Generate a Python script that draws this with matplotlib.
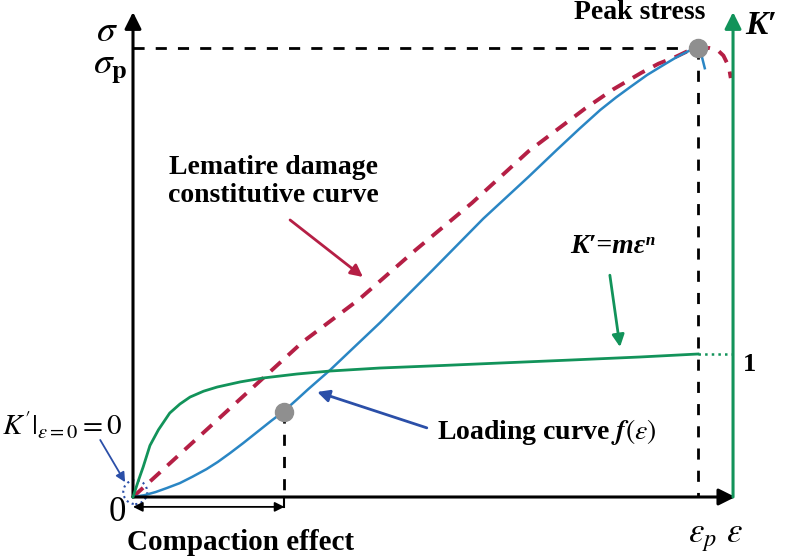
import numpy as np
import matplotlib.pyplot as plt
from matplotlib.patches import Ellipse

plt.rcParams['mathtext.fontset'] = 'stix'
plt.rcParams['font.family'] = ['Liberation Serif', 'DejaVu Serif']

# strain normalised by peak strain, stress by peak stress
eps_load = [0, 0.02, 0.04, 0.06, 0.083, 0.105, 0.13, 0.15, 0.172, 0.195, 0.22, 0.245,
            0.265, 0.29, 0.31, 0.33, 0.349, 0.39, 0.437, 0.53, 0.62, 0.70, 0.75, 0.79,
            0.827, 0.855, 0.88, 0.91, 0.94, 0.96, 0.975, 0.988, 0.998, 1.006, 1.012]
sig_load = [0, 0.004, 0.011, 0.02, 0.031, 0.045, 0.062, 0.078, 0.098, 0.12, 0.145, 0.17,
            0.189, 0.217, 0.24, 0.262, 0.283, 0.332, 0.388, 0.505, 0.62, 0.713, 0.773, 0.82,
            0.862, 0.89, 0.913, 0.94, 0.963, 0.978, 0.988, 0.996, 1.0, 0.985, 0.955]

eps_lem = [0, 0.1, 0.2, 0.3, 0.4, 0.5, 0.6, 0.7, 0.8, 0.85, 0.9, 0.93, 0.96, 0.98, 1.0,
           1.02, 1.035, 1.045, 1.052, 1.056, 1.058]
sig_lem = [0, 0.115, 0.23, 0.345, 0.44, 0.55, 0.655, 0.77, 0.865, 0.908, 0.945, 0.965,
           0.98, 0.992, 0.998, 1.0, 0.995, 0.983, 0.965, 0.948, 0.933]

# K' = m eps^n (right axis)
eps_k = [0, 0.005, 0.01, 0.018, 0.03, 0.045, 0.065, 0.083, 0.101, 0.125, 0.149, 0.19,
         0.23, 0.29, 0.349, 0.437, 0.55, 0.65, 0.77, 0.897, 1.0]
k_val = [0, 0.06, 0.12, 0.21, 0.36, 0.47, 0.587, 0.65, 0.699, 0.74, 0.769, 0.805,
         0.832, 0.86, 0.881, 0.902, 0.92, 0.937, 0.957, 0.979, 1.0]

eps_comp, sig_comp = 0.268, 0.19
eps_peak, sig_peak = 1.0, 1.0
eps_end, sig_top = 1.062, 1.08

blue = '#2a86c4'
red = '#b51f45'
green = '#12935a'

fig = plt.figure(figsize=(7.86, 5.59), dpi=100)
ax = fig.add_axes([0, 0, 1, 1])
ax.set_xlim(-133 / 565, 653 / 565)
ax.set_ylim(-62 / 449, 497 / 449)
ax.axis('off')
ax2 = ax.twinx()
ax2.set_ylim(-62 / 143, 497 / 143)
ax2.axis('off')

# guide lines
ax.plot([0, eps_peak], [sig_peak, sig_peak], color='k', lw=2, dashes=(4, 4))
ax.plot([eps_peak, eps_peak], [sig_peak, 0], color='k', lw=2, dashes=(4, 4))
ax.plot([eps_comp, eps_comp], [sig_comp, 0], color='k', lw=2, dashes=(4, 4))
ax.plot([eps_comp, eps_comp], [0, -0.022], color='k', lw=1.5)
ax.annotate('', xy=(eps_comp, -0.022), xytext=(0, -0.022),
            arrowprops=dict(arrowstyle='<|-|>', lw=1.3, color='k', mutation_scale=14,
                            shrinkA=0, shrinkB=0))

# curves
ax.plot(eps_lem, sig_lem, color=red, lw=2.8, dashes=(3.5, 2.5))
ax.plot(eps_load, sig_load, color=blue, lw=1.8)
ax2.plot(eps_k, k_val, color=green, lw=2)
ax2.plot([1.0, eps_end], [1, 1], color=green, lw=1.8, ls=':')

ax.plot([eps_comp, eps_peak], [sig_comp, sig_peak], 'o', ms=13, color='#8f8f8f', zorder=5)

# axes
ax.annotate('', xy=(0, sig_top), xytext=(0, 0),
            arrowprops=dict(arrowstyle='-|>', lw=2.2, color='k', mutation_scale=25,
                            shrinkA=0, shrinkB=0))
ax.annotate('', xy=(eps_end + 0.004, 0), xytext=(0, 0),
            arrowprops=dict(arrowstyle='-|>', lw=2.2, color='k', mutation_scale=25,
                            shrinkA=0, shrinkB=0))
ax.annotate('', xy=(eps_end, sig_top), xytext=(eps_end, 0),
            arrowprops=dict(arrowstyle='-|>', lw=2.2, color=green, mutation_scale=25,
                            shrinkA=0, shrinkB=0))

ax.add_patch(Ellipse((0.004, 0.011), 24 / 565, 24 / 449, fill=False, ec='#2b4fa8',
                     lw=1.5, ls=':'))

# pointer arrows
ax.annotate('', xy=(0.407, 0.490), xytext=(0.278, 0.617),
            arrowprops=dict(arrowstyle='-|>', lw=2, color=red, mutation_scale=18,
                            shrinkA=0, shrinkB=0))
ax.annotate('', xy=(0.326, 0.234), xytext=(0.520, 0.154),
            arrowprops=dict(arrowstyle='-|>', lw=2, color='#2b4fa8', mutation_scale=18,
                            shrinkA=0, shrinkB=0))
ax.annotate('', xy=(0.862, 0.334), xytext=(0.844, 0.494),
            arrowprops=dict(arrowstyle='-|>', lw=2, color=green, mutation_scale=18,
                            shrinkA=0, shrinkB=0))
ax.annotate('', xy=(-0.014, 0.033), xytext=(-0.058, 0.127),
            arrowprops=dict(arrowstyle='-|>', lw=1.3, color='#2b4fa8', mutation_scale=14,
                            shrinkA=0, shrinkB=0))

# labels
bold = dict(fontweight='bold', fontsize=20)
ax.text(0.249, 0.703, 'Lematire damage\nconstitutive curve', ha='center', va='center',
        linespacing=1.15, **bold)
ax.text(0.897, 1.078, 'Peak stress', ha='center', va='center', **bold)
ax.text(0.538, 0.145, r'Loading curve $\mathbfit{f}(\varepsilon)$', ha='left', va='center',
        **bold)
ax.text(-0.011, -0.102, 'Compaction effect', ha='left', va='center', fontweight='bold',
        fontsize=21)
ax.text(0.848, 0.557, 'K\u2032=m\u03b5\u207f', ha='center', va='center', fontsize=20,
        fontweight='bold', fontstyle='italic')
ax.text(1.083, 1.051, 'K\u2032', ha='left', va='center', fontsize=24,
        fontweight='bold', fontstyle='italic')
ax.text(1.092, 0.296, '1', ha='center', va='center', fontweight='bold', fontsize=19)
ax.text(-0.046, 1.036, r'$\sigma$', ha='center', va='center', fontsize=27)
ax.text(-0.041, 0.955, r'$\sigma_{\mathbf{p}}$', ha='center', va='center', fontsize=27)
ax.text(-0.126, 0.160, r"$K'|_{\varepsilon=0}=0$", ha='center', va='center', fontsize=21)
ax.text(-0.027, -0.035, '0', ha='center', va='center', fontsize=25)
ax.text(1.007, -0.091, r'$\varepsilon_p$', ha='center', va='center', fontsize=25)
ax.text(1.065, -0.082, r'$\varepsilon$', ha='center', va='center', fontsize=25)

fig.savefig('out.png', dpi=100)
